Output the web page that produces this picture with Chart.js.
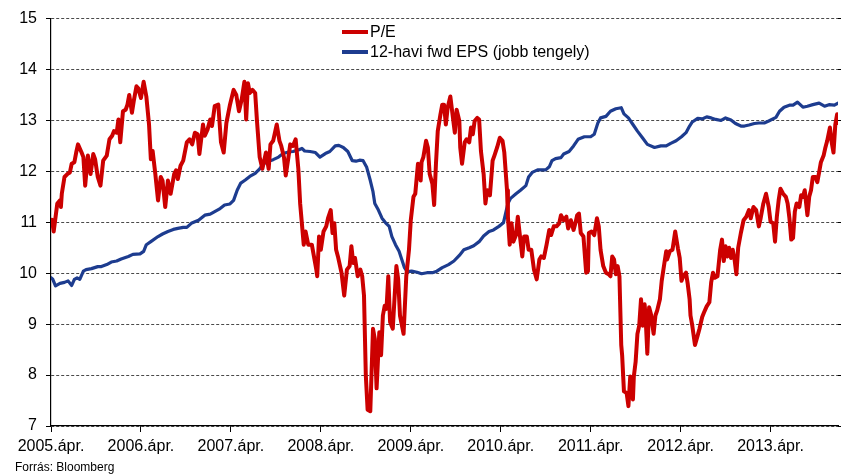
<!DOCTYPE html>
<html>
<head>
<meta charset="utf-8">
<script src="https://cdn.jsdelivr.net/npm/chart.js@4/dist/chart.umd.min.js"></script>
<style>
    body { margin: 0; background: #fff; }
    #wrap { position: relative; width: 841px; height: 475px; }
    #source {
        position: absolute; left: 15px; top: 460px;
        font: 12px "Liberation Sans", Arial, sans-serif; color: #000;
    }
</style>
</head>
<body>
<div id="wrap">
    <canvas id="pe-chart"></canvas>
    <div id="source">Forrás: Bloomberg</div>
</div>
<script>
// Tick positions (decimal year) and labels
const tickYears = [2005.25, 2006.25, 2007.25, 2008.25, 2009.25, 2010.25, 2011.25, 2012.25, 2013.25];
const tickLabels = ['2005.ápr.', '2006.ápr.', '2007.ápr.', '2008.ápr.', '2009.ápr.', '2010.ápr.', '2011.ápr.', '2012.ápr.', '2013.ápr.'];

const seriesLabels = ['P/E', '12-havi fwd EPS (jobb tengely)'];

// P/E (left axis)
const peDates = [
    2005.26, 2005.28, 2005.32, 2005.35, 2005.36, 2005.37, 2005.40, 2005.44, 2005.46, 2005.48,
    2005.51, 2005.53, 2005.55, 2005.59, 2005.61, 2005.63, 2005.66, 2005.69, 2005.72, 2005.74,
    2005.77, 2005.80, 2005.83, 2005.87, 2005.90, 2005.93, 2005.95, 2005.98, 2006.00, 2006.02,
    2006.05, 2006.08, 2006.10, 2006.12, 2006.15, 2006.17, 2006.20, 2006.22, 2006.25, 2006.28,
    2006.31, 2006.34, 2006.36, 2006.38, 2006.41, 2006.44, 2006.47, 2006.49, 2006.52, 2006.55,
    2006.58, 2006.62, 2006.64, 2006.66, 2006.69, 2006.72, 2006.76, 2006.79, 2006.82, 2006.85,
    2006.88, 2006.90, 2006.94, 2006.96, 2006.99, 2007.02, 2007.04, 2007.07, 2007.11, 2007.14,
    2007.17, 2007.20, 2007.24, 2007.28, 2007.31, 2007.34, 2007.37, 2007.40, 2007.42, 2007.44,
    2007.46, 2007.49, 2007.52, 2007.54, 2007.57, 2007.60, 2007.64, 2007.67, 2007.69, 2007.72,
    2007.76, 2007.79, 2007.81, 2007.84, 2007.86, 2007.89, 2007.91, 2007.94, 2007.97, 2008.00,
    2008.02, 2008.06, 2008.08, 2008.11, 2008.15, 2008.20, 2008.21, 2008.23, 2008.25, 2008.28,
    2008.31, 2008.33, 2008.36, 2008.38, 2008.40, 2008.42, 2008.44, 2008.48, 2008.51, 2008.54,
    2008.57, 2008.59, 2008.61, 2008.63, 2008.66, 2008.69, 2008.71, 2008.73, 2008.75, 2008.77,
    2008.80, 2008.83, 2008.85, 2008.87, 2008.90, 2008.92, 2008.94, 2008.96, 2008.98, 2009.00,
    2009.02, 2009.05, 2009.09, 2009.11, 2009.13, 2009.17, 2009.20, 2009.23, 2009.25, 2009.28,
    2009.30, 2009.33, 2009.36, 2009.37, 2009.39, 2009.42, 2009.44, 2009.46, 2009.49, 2009.51,
    2009.53, 2009.55, 2009.58, 2009.60, 2009.62, 2009.64, 2009.66, 2009.69, 2009.71, 2009.74,
    2009.76, 2009.79, 2009.80, 2009.82, 2009.85, 2009.87, 2009.90, 2009.92, 2009.94, 2009.96,
    2009.99, 2010.01, 2010.03, 2010.06, 2010.08, 2010.10, 2010.13, 2010.16, 2010.18, 2010.21,
    2010.24, 2010.27, 2010.29, 2010.32, 2010.33, 2010.35, 2010.37, 2010.39, 2010.42, 2010.44,
    2010.46, 2010.49, 2010.51, 2010.54, 2010.56, 2010.59, 2010.62, 2010.65, 2010.68, 2010.70,
    2010.73, 2010.76, 2010.79, 2010.81, 2010.84, 2010.87, 2010.90, 2010.92, 2010.95, 2010.98,
    2011.00, 2011.03, 2011.06, 2011.08, 2011.10, 2011.12, 2011.14, 2011.17, 2011.20, 2011.22,
    2011.23, 2011.26, 2011.29, 2011.32, 2011.34, 2011.36, 2011.39, 2011.42, 2011.45, 2011.47,
    2011.49, 2011.51, 2011.53, 2011.55, 2011.57, 2011.59, 2011.60, 2011.62, 2011.65, 2011.67,
    2011.69, 2011.72, 2011.73, 2011.75, 2011.77, 2011.79, 2011.81, 2011.83, 2011.85, 2011.86,
    2011.88, 2011.90, 2011.92, 2011.95, 2011.97, 2011.99, 2012.02, 2012.04, 2012.07, 2012.09,
    2012.10, 2012.13, 2012.16, 2012.19, 2012.22, 2012.24, 2012.26, 2012.28, 2012.31, 2012.33,
    2012.35, 2012.36, 2012.38, 2012.41, 2012.44, 2012.46, 2012.49, 2012.51, 2012.54, 2012.57,
    2012.59, 2012.61, 2012.63, 2012.66, 2012.69, 2012.71, 2012.73, 2012.75, 2012.77, 2012.79,
    2012.81, 2012.83, 2012.85, 2012.87, 2012.89, 2012.92, 2012.95, 2012.98, 2013.01, 2013.03,
    2013.06, 2013.09, 2013.12, 2013.14, 2013.17, 2013.20, 2013.23, 2013.25, 2013.28, 2013.30,
    2013.32, 2013.34, 2013.36, 2013.39, 2013.42, 2013.44, 2013.46, 2013.48, 2013.50, 2013.52,
    2013.54, 2013.57, 2013.59, 2013.61, 2013.63, 2013.66, 2013.68, 2013.70, 2013.72, 2013.75,
    2013.77, 2013.79, 2013.81, 2013.84, 2013.86, 2013.88, 2013.91, 2013.93, 2013.95, 2013.97,
    2013.99, 2014.00
];
const peValues = [
    11.05, 10.82, 11.37, 11.43, 11.30, 11.56, 11.89, 11.96, 11.98, 12.15,
    12.18, 12.37, 12.53, 12.37, 12.28, 11.72, 12.31, 11.95, 12.34, 12.24,
    11.89, 11.72, 12.21, 12.31, 12.63, 12.70, 12.79, 12.76, 13.02, 12.57,
    13.18, 13.21, 13.31, 13.50, 13.15, 13.38, 13.67, 13.63, 13.44, 13.76,
    13.47, 12.92, 12.24, 12.40, 11.95, 11.43, 11.89, 11.82, 11.30, 11.82,
    11.56, 11.95, 12.02, 11.85, 12.11, 12.21, 12.57, 12.63, 12.53, 12.76,
    12.73, 12.34, 12.92, 12.70, 12.82, 13.02, 12.89, 13.28, 13.31, 12.57,
    12.37, 12.95, 13.31, 13.60, 13.50, 13.18, 13.41, 13.76, 13.02, 13.73,
    13.54, 13.60, 13.54, 12.99, 12.28, 12.05, 12.37, 12.05, 12.53, 12.60,
    12.92, 12.60, 12.50, 12.28, 11.92, 12.28, 12.53, 12.50, 12.63, 12.05,
    11.37, 10.56, 10.82, 10.56, 10.56, 10.07, 9.94, 10.72, 10.46, 10.82,
    10.92, 11.08, 11.24, 10.79, 10.98, 10.46, 10.33, 10.01, 9.56, 10.07,
    10.14, 10.53, 10.20, 10.30, 9.94, 10.07, 9.94, 9.56, 8.00, 7.32,
    7.29, 8.91, 8.71, 7.74, 8.84, 8.39, 9.17, 9.36, 9.30, 9.94,
    9.04, 8.91, 10.14, 9.88, 9.17, 8.81, 9.94, 10.46, 11.04, 11.50,
    11.56, 12.15, 11.82, 12.18, 12.28, 12.60, 12.47, 11.95, 11.76, 11.34,
    12.15, 12.79, 13.12, 13.31, 13.31, 12.92, 13.25, 13.47, 13.18, 12.76,
    13.21, 12.99, 12.47, 12.15, 12.57, 12.63, 12.57, 12.86, 12.73, 12.99,
    13.05, 13.02, 12.40, 11.95, 11.37, 11.63, 11.53, 12.21, 12.31, 12.47,
    12.66, 12.60, 12.37, 11.63, 11.11, 10.56, 10.98, 10.62, 10.75, 11.11,
    10.79, 10.33, 10.72, 10.72, 10.46, 10.46, 10.07, 9.88, 10.27, 10.33,
    10.30, 10.56, 10.85, 10.75, 10.92, 10.92, 10.98, 11.14, 11.04, 11.11,
    10.88, 11.04, 10.85, 10.98, 11.14, 11.17, 10.79, 10.72, 10.01, 10.04,
    10.79, 10.82, 10.75, 11.08, 10.92, 10.46, 10.14, 10.01, 9.98, 9.94,
    10.33, 10.27, 9.98, 10.14, 9.94, 8.59, 8.39, 7.68, 7.65, 7.39,
    7.97, 7.52, 7.97, 8.26, 8.81, 8.97, 9.49, 8.97, 9.39, 9.17,
    8.42, 9.33, 9.20, 8.81, 9.17, 9.27, 9.49, 9.85, 10.20, 10.43,
    10.27, 10.43, 10.46, 10.82, 10.49, 10.30, 9.85, 9.94, 10.01, 9.78,
    9.49, 9.17, 8.97, 8.59, 8.78, 8.91, 9.14, 9.23, 9.35, 9.43,
    9.82, 10.01, 9.91, 9.94, 10.46, 10.66, 10.24, 10.53, 10.33, 10.50,
    10.30, 10.46, 10.27, 9.98, 10.50, 10.79, 11.04, 11.11, 11.24, 11.08,
    11.30, 11.24, 10.92, 11.08, 11.37, 11.56, 11.30, 11.01, 10.98, 10.62,
    11.11, 11.43, 11.66, 11.56, 11.50, 11.37, 11.08, 10.66, 10.69, 11.21,
    11.37, 11.30, 11.53, 11.50, 11.63, 11.14, 11.50, 11.63, 11.89, 11.89,
    11.79, 11.98, 12.18, 12.31, 12.47, 12.60, 12.86, 12.57, 12.37, 12.92,
    13.12, 12.95
];

// 12-month forward EPS (right axis, unlabelled)
const epsDates = [
    2005.25, 2005.27, 2005.30, 2005.35, 2005.40, 2005.44, 2005.48, 2005.51, 2005.54, 2005.57,
    2005.61, 2005.64, 2005.70, 2005.77, 2005.81, 2005.87, 2005.92, 2005.98, 2006.03, 2006.11,
    2006.16, 2006.24, 2006.28, 2006.31, 2006.36, 2006.44, 2006.49, 2006.55, 2006.61, 2006.66,
    2006.72, 2006.76, 2006.81, 2006.89, 2006.96, 2007.02, 2007.07, 2007.13, 2007.18, 2007.24,
    2007.28, 2007.32, 2007.36, 2007.41, 2007.46, 2007.52, 2007.57, 2007.61, 2007.67, 2007.72,
    2007.78, 2007.83, 2007.89, 2007.94, 2008.00, 2008.04, 2008.07, 2008.13, 2008.19, 2008.24,
    2008.30, 2008.35, 2008.41, 2008.45, 2008.50, 2008.55, 2008.60, 2008.64, 2008.68, 2008.72,
    2008.76, 2008.80, 2008.83, 2008.85, 2008.89, 2008.93, 2008.97, 2009.01, 2009.04, 2009.08,
    2009.12, 2009.15, 2009.18, 2009.21, 2009.26, 2009.32, 2009.37, 2009.43, 2009.49, 2009.54,
    2009.60, 2009.67, 2009.73, 2009.79, 2009.84, 2009.90, 2009.95, 2010.01, 2010.06, 2010.12,
    2010.17, 2010.23, 2010.28, 2010.30, 2010.33, 2010.36, 2010.42, 2010.47, 2010.53, 2010.56,
    2010.60, 2010.66, 2010.75, 2010.79, 2010.82, 2010.86, 2010.92, 2010.95, 2011.01, 2011.06,
    2011.11, 2011.18, 2011.25, 2011.29, 2011.33, 2011.36, 2011.42, 2011.47, 2011.53, 2011.59,
    2011.62, 2011.67, 2011.72, 2011.77, 2011.83, 2011.88, 2011.96, 2012.03, 2012.09, 2012.14,
    2012.20, 2012.26, 2012.31, 2012.35, 2012.38, 2012.44, 2012.49, 2012.54, 2012.59, 2012.64,
    2012.70, 2012.75, 2012.81, 2012.86, 2012.92, 2012.96, 2013.01, 2013.07, 2013.12, 2013.18,
    2013.23, 2013.31, 2013.35, 2013.40, 2013.46, 2013.50, 2013.55, 2013.61, 2013.66, 2013.72,
    2013.79, 2013.85, 2013.90, 2013.96, 2014.00
];
const epsValues = [
    9.91, 9.88, 9.75, 9.80, 9.82, 9.85, 9.76, 9.88, 9.91, 9.88,
    10.04, 10.07, 10.09, 10.13, 10.13, 10.17, 10.22, 10.24, 10.28, 10.33,
    10.37, 10.38, 10.43, 10.56, 10.62, 10.72, 10.77, 10.82, 10.86, 10.88,
    10.90, 10.90, 10.98, 11.04, 11.14, 11.16, 11.21, 11.27, 11.34, 11.36,
    11.43, 11.63, 11.77, 11.83, 11.90, 11.96, 12.05, 12.15, 12.20, 12.23,
    12.28, 12.35, 12.38, 12.39, 12.42, 12.45, 12.40, 12.39, 12.37, 12.28,
    12.35, 12.39, 12.50, 12.51, 12.47, 12.39, 12.21, 12.20, 12.22, 12.21,
    12.08, 11.82, 11.60, 11.37, 11.24, 11.08, 10.99, 10.92, 10.72, 10.56,
    10.43, 10.27, 10.11, 10.03, 10.04, 10.02, 9.99, 10.01, 10.01, 10.04,
    10.11, 10.17, 10.24, 10.35, 10.46, 10.50, 10.54, 10.62, 10.73, 10.82,
    10.85, 10.92, 10.99, 11.14, 11.37, 11.47, 11.56, 11.63, 11.72, 11.89,
    11.98, 12.03, 12.03, 12.09, 12.21, 12.25, 12.27, 12.34, 12.39, 12.50,
    12.63, 12.68, 12.68, 12.73, 12.95, 13.05, 13.08, 13.18, 13.23, 13.25,
    13.13, 13.05, 12.92, 12.79, 12.65, 12.53, 12.47, 12.50, 12.50, 12.55,
    12.60, 12.68, 12.76, 12.89, 12.97, 13.04, 13.03, 13.07, 13.05, 13.02,
    13.00, 13.05, 13.01, 12.94, 12.89, 12.89, 12.91, 12.94, 12.95, 12.95,
    12.99, 13.06, 13.18, 13.26, 13.30, 13.30, 13.36, 13.26, 13.28, 13.31,
    13.34, 13.28, 13.31, 13.30, 13.34
];

const FONT = '"Liberation Sans", Arial, sans-serif';

function toPoints(xs, ys) {
    return xs.map((x, i) => ({ x: x, y: ys[i] }));
}

// Legend drawn inside the plot area, two rows
const innerLegend = {
    id: 'innerLegend',
    afterDraw(chart) {
        const ctx = chart.ctx;
        const x0 = 342;
        ctx.save();
        ctx.font = '16px ' + FONT;
        ctx.textBaseline = 'middle';
        chart.data.datasets.forEach((ds, i) => {
            const y = 32 + i * 20;
            ctx.strokeStyle = ds.borderColor;
            ctx.lineWidth = 4;
            ctx.beginPath();
            ctx.moveTo(x0, y);
            ctx.lineTo(x0 + 26, y);
            ctx.stroke();
            ctx.fillStyle = '#000';
            ctx.fillText(ds.label, x0 + 28, y + 1);
        });
        ctx.restore();
    }
};

function setYearTicks(scale) {
    scale.ticks = tickYears.map(v => ({ value: v }));
}

function setUnitTicks(scale) {
    const t = [];
    for (let v = 7; v <= 15; v++) t.push({ value: v });
    scale.ticks = t;
}

function initChart() {
    const ctx = document.getElementById('pe-chart').getContext('2d');
    new Chart(ctx, {
        type: 'line',
        data: {
            datasets: [{
                label: seriesLabels[0],
                data: toPoints(peDates, peValues),
                borderColor: '#cc0000',
                borderWidth: 4,
                yAxisID: 'y'
            }, {
                label: seriesLabels[1],
                data: toPoints(epsDates, epsValues),
                borderColor: '#1d3c8f',
                borderWidth: 3.2,
                yAxisID: 'y2'
            }]
        },
        options: {
            responsive: true,
            maintainAspectRatio: false,
            animation: false,
            layout: { padding: { top: 13, right: 0, bottom: 0, left: 0 } },
            elements: {
                point: { radius: 0 },
                line: { tension: 0, borderJoinStyle: 'round', borderCapStyle: 'round' }
            },
            scales: {
                x: {
                    type: 'linear',
                    min: 2005.25,
                    max: 2014.0,
                    afterBuildTicks: setYearTicks,
                    afterFit: s => { s.height = 49; },
                    grid: { drawOnChartArea: false, tickLength: 6, color: '#000' },
                    border: { display: true, color: '#000', width: 1.2 },
                    ticks: {
                        autoSkip: false,
                        maxRotation: 0,
                        padding: 5,
                        color: '#000',
                        font: { family: FONT, size: 16 },
                        callback: v => tickLabels[tickYears.indexOf(v)]
                    }
                },
                y: {
                    position: 'left',
                    min: 7,
                    max: 15,
                    afterBuildTicks: setUnitTicks,
                    afterFit: s => { s.width = 51; },
                    grid: { color: '#4a4a4a', lineWidth: 1, tickLength: 5, tickColor: '#000', tickBorderDash: [] },
                    border: { display: true, color: '#000', width: 1.2, dash: [3, 2] },
                    ticks: {
                        padding: 9,
                        color: '#000',
                        font: { family: FONT, size: 16 }
                    }
                },
                y2: {
                    position: 'right',
                    min: 7,
                    max: 15,
                    afterBuildTicks: setUnitTicks,
                    afterFit: s => { s.width = 3; },
                    grid: { drawOnChartArea: false, tickLength: 5, color: '#000' },
                    border: { display: false },
                    ticks: { display: false }
                }
            },
            plugins: { legend: { display: false }, tooltip: { enabled: false } }
        },
        plugins: [innerLegend]
    });
}

document.addEventListener('DOMContentLoaded', initChart);
</script>
</body>
</html>
